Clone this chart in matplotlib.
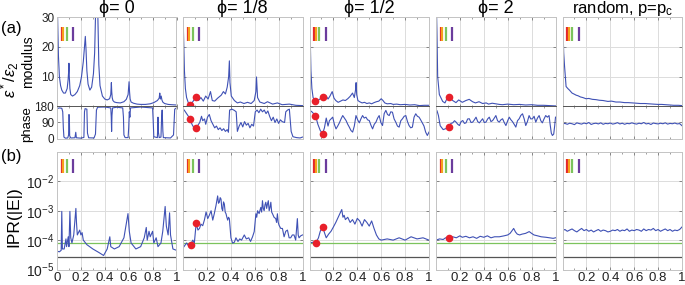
import numpy as np
import matplotlib.pyplot as plt
from matplotlib.ticker import MultipleLocator, LogLocator, NullFormatter

plt.rcParams['font.family'] = ['Liberation Sans', 'DejaVu Sans']
plt.rcParams['mathtext.fontset'] = 'custom'
plt.rcParams['mathtext.rm'] = 'Liberation Sans'
plt.rcParams['mathtext.it'] = 'Liberation Sans:italic'

titles = ['ϕ= 0', 'ϕ= 1/8', 'ϕ= 1/2', 'ϕ= 2', r'random, p=p$_\mathregular{c}$']

# modulus |eps*/eps2| : (x, value)
mod_0 = [(0, 40), (0.005, 30), (0.012, 17), (0.02, 10), (0.03, 7), (0.04, 5.5), (0.055, 4.5), (0.07, 4.5),
         (0.085, 6), (0.093, 9), (0.098, 12), (0.1, 14.5), (0.103, 10), (0.108, 6), (0.115, 4), (0.13, 3.5),
         (0.15, 4), (0.17, 5), (0.19, 7), (0.205, 10), (0.22, 15), (0.23, 20), (0.237, 23.5), (0.243, 19),
         (0.25, 12), (0.26, 7.5), (0.275, 5.5), (0.29, 6.5), (0.305, 11), (0.315, 18), (0.322, 30), (0.328, 40),
         (0.335, 40), (0.342, 30), (0.35, 14), (0.36, 7), (0.38, 3.5), (0.4, 2.5), (0.42, 2.2), (0.44, 2.6),
         (0.45, 4), (0.455, 8), (0.458, 5), (0.462, 3), (0.468, 2), (0.48, 1.5), (0.5, 1.3), (0.53, 1.2),
         (0.56, 1.6), (0.58, 2.4), (0.595, 4), (0.603, 8.3), (0.607, 5), (0.612, 2.5), (0.62, 1.5), (0.64, 1.1),
         (0.67, 0.8), (0.7, 0.7), (0.74, 0.7), (0.78, 0.9), (0.81, 1.3), (0.84, 2), (0.855, 2.8), (0.86, 4.5),
         (0.865, 2.5), (0.872, 3.5), (0.878, 2.2), (0.885, 1.5), (0.9, 1.0), (0.93, 0.7), (0.96, 0.6), (1.0, 0.5)]
mod_18 = [(0.0, 40), (0.004, 25), (0.012, 12), (0.02, 6), (0.03, 3), (0.045, 1.2), (0.06, 0.4), (0.08, 1.5),
          (0.11, 3.2), (0.13, 2), (0.15, 3), (0.17, 1.8), (0.19, 3.5), (0.21, 2.5), (0.23, 5), (0.245, 2),
          (0.265, 1.8), (0.29, 2.8), (0.32, 3.8), (0.338, 5), (0.355, 4.2), (0.37, 6.5), (0.382, 10), (0.388, 15.3),
          (0.393, 8), (0.404, 3.5), (0.43, 2), (0.455, 1.2), (0.48, 1.5), (0.51, 1.0), (0.54, 1.4), (0.57, 1.0),
          (0.596, 2.0), (0.61, 5), (0.615, 9.9), (0.624, 3), (0.643, 1.5), (0.68, 1.0), (0.707, 1.6), (0.75, 0.8),
          (0.79, 1.2), (0.83, 0.6), (0.89, 0.8), (0.944, 0.4), (1.0, 0.3)]
mod_12 = [(0.0, 40), (0.005, 25), (0.012, 12), (0.02, 6), (0.03, 3), (0.05, 1.7), (0.07, 2.0), (0.09, 2.6),
          (0.11, 3.2), (0.125, 2.2), (0.14, 3.5), (0.155, 2.5), (0.17, 3.4), (0.19, 5.0), (0.205, 2.8), (0.22, 2.0),
          (0.24, 1.4), (0.26, 1.8), (0.28, 2.2), (0.3, 2.0), (0.32, 2.6), (0.34, 3.4), (0.36, 4.5), (0.375, 3.0),
          (0.385, 5.5), (0.39, 8.0), (0.395, 4.0), (0.405, 2.0), (0.42, 1.6), (0.44, 1.2), (0.46, 1.4), (0.48, 1.0),
          (0.5, 1.2), (0.52, 0.9), (0.54, 1.3), (0.56, 1.6), (0.58, 1.8), (0.6, 2.6), (0.615, 2.0), (0.63, 1.2),
          (0.65, 0.9), (0.68, 1.0), (0.7, 0.7), (0.73, 0.8), (0.76, 0.6), (0.8, 0.7), (0.84, 0.5), (0.88, 0.6),
          (0.92, 0.3), (0.96, 0.4), (1.0, 0.4)]
mod_2 = [(0.0, 40), (0.008, 25), (0.014, 10), (0.028, 4), (0.056, 1.7), (0.075, 1.2), (0.09, 2.5), (0.11, 3.2),
         (0.14, 2.0), (0.167, 1.3), (0.19, 2.2), (0.22, 1.4), (0.25, 2.0), (0.278, 2.4), (0.306, 1.6), (0.33, 1.2),
         (0.36, 1.6), (0.39, 1.0), (0.42, 1.2), (0.44, 0.8), (0.47, 1.1), (0.5, 0.9), (0.53, 0.7), (0.556, 0.6),
         (0.6, 0.8), (0.65, 0.6), (0.7, 0.7), (0.75, 0.5), (0.8, 0.6), (0.85, 0.4), (0.9, 0.4), (0.95, 0.3), (1.0, 0.2)]
mod_rand = [(0.0, 40), (0.005, 25), (0.01, 18), (0.017, 13.6), (0.03, 6.7), (0.045, 6.0), (0.058, 5.5), (0.08, 4.5),
            (0.1, 4.1), (0.114, 3.8), (0.13, 3.6), (0.15, 3.2), (0.17, 3.0), (0.197, 2.6), (0.22, 2.7), (0.25, 2.4),
            (0.28, 2.3), (0.308, 2.1), (0.34, 2.0), (0.38, 1.7), (0.41, 1.8), (0.447, 1.5), (0.48, 1.5), (0.52, 1.3),
            (0.55, 1.3), (0.586, 1.2), (0.62, 1.1), (0.65, 1.0), (0.69, 1.0), (0.725, 0.9), (0.76, 0.8), (0.8, 0.7),
            (0.83, 0.7), (0.864, 0.6), (0.9, 0.5), (0.93, 0.4), (0.97, 0.4), (1.0, 0.3)]

# phase in degrees : (x, value)
ph_0 = [(0, 168), (0.02, 172), (0.04, 170), (0.048, 150), (0.053, 60), (0.058, 8), (0.07, 2), (0.09, 3),
        (0.097, 20), (0.1, 135), (0.103, 130), (0.106, 15), (0.115, 3), (0.15, 4), (0.157, 35), (0.162, 4),
        (0.2, 2), (0.225, 6), (0.23, 150), (0.235, 168), (0.25, 165), (0.255, 30), (0.265, 4), (0.31, 3),
        (0.322, 25), (0.33, 160), (0.34, 176), (0.4, 177), (0.45, 172), (0.454, 120), (0.457, 40), (0.46, 130),
        (0.465, 172), (0.5, 176), (0.55, 172), (0.556, 120), (0.56, 20), (0.57, 5), (0.595, 5), (0.6, 60),
        (0.605, 150), (0.61, 120), (0.615, 172), (0.7, 177), (0.8, 172), (0.805, 100), (0.81, 10), (0.84, 5),
        (0.845, 120), (0.848, 40), (0.855, 5), (0.87, 8), (0.875, 110), (0.88, 160), (0.886, 40), (0.89, 5),
        (0.95, 3), (0.975, 20), (0.985, 165), (1.0, 172)]
ph_18 = [(0.0, 165), (0.01, 160), (0.03, 140), (0.045, 125), (0.06, 111), (0.075, 80), (0.09, 62), (0.11, 58),
         (0.125, 75), (0.14, 90), (0.155, 125), (0.165, 100), (0.18, 110), (0.19, 80), (0.205, 120), (0.22, 135),
         (0.235, 100), (0.25, 80), (0.265, 60), (0.28, 70), (0.295, 50), (0.31, 60), (0.325, 45), (0.34, 55),
         (0.355, 40), (0.37, 50), (0.38, 35), (0.39, 160), (0.41, 165), (0.43, 158), (0.445, 150), (0.455, 40),
         (0.47, 70), (0.485, 90), (0.5, 65), (0.515, 95), (0.53, 75), (0.545, 85), (0.56, 60), (0.575, 80),
         (0.59, 70), (0.605, 150), (0.62, 160), (0.635, 145), (0.65, 165), (0.665, 150), (0.68, 160), (0.695, 140),
         (0.71, 155), (0.725, 125), (0.74, 100), (0.755, 120), (0.77, 90), (0.785, 110), (0.8, 85), (0.815, 105),
         (0.83, 95), (0.85, 90), (0.86, 150), (0.875, 160), (0.89, 165), (0.905, 40), (0.92, 10), (0.95, 5),
         (0.98, 3), (1.0, 8)]
ph_12 = [(0.0, 160), (0.02, 150), (0.05, 129), (0.07, 80), (0.09, 45), (0.11, 28), (0.125, 60), (0.14, 115),
         (0.155, 70), (0.167, 101), (0.18, 110), (0.194, 120), (0.208, 80), (0.222, 54), (0.236, 70), (0.25, 88),
         (0.264, 110), (0.278, 129), (0.292, 115), (0.306, 101), (0.32, 80), (0.333, 64), (0.347, 45), (0.361, 36),
         (0.375, 70), (0.389, 129), (0.403, 105), (0.417, 88), (0.43, 110), (0.444, 129), (0.458, 115), (0.472, 120),
         (0.486, 105), (0.5, 101), (0.514, 75), (0.528, 54), (0.542, 80), (0.556, 92), (0.57, 115), (0.583, 129),
         (0.597, 90), (0.611, 73), (0.625, 140), (0.639, 158), (0.653, 135), (0.667, 129), (0.68, 150), (0.694, 148),
         (0.708, 110), (0.722, 92), (0.736, 70), (0.75, 64), (0.764, 100), (0.778, 111), (0.792, 125), (0.806, 129),
         (0.82, 95), (0.833, 73), (0.847, 60), (0.861, 64), (0.875, 120), (0.889, 139), (0.903, 125), (0.917, 120),
         (0.93, 105), (0.944, 88), (0.958, 70), (0.972, 36), (0.986, 17), (1.0, 36)]
ph_2 = [(0.0, 143), (0.008, 157), (0.02, 130), (0.035, 72), (0.06, 50), (0.08, 55), (0.11, 64), (0.125, 85),
        (0.14, 88), (0.155, 100), (0.168, 92), (0.182, 80), (0.196, 73), (0.21, 95), (0.224, 101), (0.238, 85),
        (0.251, 88), (0.265, 110), (0.279, 111), (0.293, 90), (0.307, 92), (0.321, 105), (0.335, 120), (0.349, 95),
        (0.363, 88), (0.377, 100), (0.39, 111), (0.404, 90), (0.418, 92), (0.432, 110), (0.446, 120), (0.46, 95),
        (0.474, 101), (0.488, 115), (0.501, 129), (0.515, 100), (0.529, 92), (0.543, 105), (0.557, 111), (0.571, 90),
        (0.585, 73), (0.6, 100), (0.613, 120), (0.627, 105), (0.64, 95), (0.654, 80), (0.668, 64), (0.682, 100),
        (0.696, 111), (0.71, 130), (0.724, 139), (0.738, 110), (0.751, 73), (0.765, 95), (0.779, 129), (0.793, 110),
        (0.807, 111), (0.821, 125), (0.835, 92), (0.849, 115), (0.863, 129), (0.877, 100), (0.89, 88), (0.904, 110),
        (0.918, 129), (0.932, 120), (0.946, 129), (0.955, 80), (0.965, 30), (0.974, 17), (0.985, 25), (0.993, 70),
        (1.0, 120)]
ph_rand = [82, 85, 80, 86, 83, 78, 88, 84, 81, 87, 83, 90, 79, 84, 86, 82, 88, 80, 85, 83, 87, 81, 84, 89, 82,
           86, 80, 85, 83, 88, 84, 81, 86, 83, 90, 82, 85, 79, 87, 84, 82, 86, 83, 88, 81, 85, 83, 87, 82, 84, 72]

# IPR(|E|) : (x, value)
ipr_0 = [(0, 4.2e-5), (0.02, 4.0e-5), (0.035, 4.5e-5), (0.04, 9.5e-4), (0.045, 5e-5), (0.06, 5e-5),
         (0.075, 1.1e-4), (0.08, 6e-5), (0.094, 1.3e-4), (0.1, 6e-5), (0.108, 9.5e-4), (0.115, 1.2e-4),
         (0.125, 8e-5), (0.14, 1.5e-4), (0.158, 1.2e-3), (0.163, 4e-4), (0.17, 1.5e-4), (0.19, 2.2e-4),
         (0.2, 1.5e-4), (0.21, 1.8e-4), (0.22, 1e-4), (0.25, 7e-5), (0.3, 5e-5), (0.35, 3.8e-5), (0.39, 3.0e-5),
         (0.42, 5e-5), (0.442, 1.3e-4), (0.45, 6e-5), (0.48, 5e-5), (0.52, 6e-5), (0.56, 1.2e-4), (0.594, 8e-4),
         (0.605, 2e-4), (0.62, 8e-5), (0.66, 5e-5), (0.7, 6e-5), (0.73, 1.2e-4), (0.747, 2.7e-4), (0.755, 1e-4),
         (0.77, 2e-4), (0.78, 1.3e-4), (0.8, 2e-4), (0.81, 8e-5), (0.83, 1.2e-4), (0.845, 6e-5), (0.87, 8e-5),
         (0.885, 2e-4), (0.905, 1.4e-3), (0.915, 3e-4), (0.93, 1.5e-4), (0.942, 8.5e-4), (0.95, 1.5e-4),
         (0.97, 5e-5), (1.0, 4.5e-5)]
ipr_18 = [(0.0, 5.4e-5), (0.03, 8e-5), (0.045, 6.5e-5), (0.063, 6.9e-5), (0.082, 1.0e-4), (0.095, 8e-5),
          (0.11, 3.7e-4), (0.125, 2.2e-4), (0.138, 2.5e-4), (0.15, 3.5e-4), (0.165, 3.1e-4), (0.18, 5e-4),
          (0.193, 9.1e-4), (0.207, 5.4e-4), (0.22, 7e-4), (0.235, 1.0e-3), (0.249, 4.8e-4), (0.262, 8e-4),
          (0.276, 1.5e-3), (0.29, 3.2e-3), (0.297, 1.8e-3), (0.304, 1.95e-3), (0.311, 2.8e-3), (0.318, 2.5e-3),
          (0.325, 1.2e-3), (0.332, 1.0e-3), (0.339, 2.0e-3), (0.346, 1.7e-3), (0.353, 9e-4), (0.36, 7.9e-4),
          (0.367, 6e-4), (0.374, 4.8e-4), (0.381, 6e-4), (0.388, 5.4e-4), (0.401, 1.2e-4), (0.415, 7.9e-5),
          (0.43, 8.5e-5), (0.443, 1.2e-4), (0.46, 9e-5), (0.475, 1.1e-4), (0.49, 1.0e-4), (0.513, 1.5e-4),
          (0.53, 1.1e-4), (0.55, 1.2e-4), (0.565, 9e-5), (0.582, 1.3e-4), (0.596, 1.95e-4), (0.61, 7.9e-4),
          (0.617, 6e-4), (0.624, 1.0e-3), (0.637, 8e-4), (0.651, 1.3e-3), (0.658, 9e-4), (0.665, 2.2e-3),
          (0.672, 1.2e-3), (0.679, 1.0e-3), (0.686, 1.6e-3), (0.693, 1.95e-3), (0.7, 1.2e-3), (0.707, 1.7e-3),
          (0.714, 2.2e-3), (0.721, 1.0e-3), (0.728, 1.3e-3), (0.735, 1.95e-3), (0.742, 9e-4), (0.749, 7.9e-4),
          (0.762, 6e-4), (0.776, 5.4e-4), (0.783, 4e-4), (0.79, 7.9e-4), (0.797, 4e-4), (0.804, 3.2e-4),
          (0.818, 2.5e-4), (0.832, 2.5e-4), (0.846, 1.3e-4), (0.86, 2e-4), (0.874, 2.2e-4), (0.888, 1.2e-4),
          (0.901, 1.2e-4), (0.915, 1.5e-4), (0.929, 1.5e-4), (0.943, 1.0e-4), (0.957, 5.4e-4), (0.964, 1.5e-4),
          (0.971, 1.2e-4), (0.985, 1.4e-4), (1.0, 1.5e-4)]
ipr_12 = [(0.0, 8e-5), (0.03, 8.5e-5), (0.055, 8.3e-5), (0.075, 1.2e-4), (0.09, 2e-4), (0.11, 2.9e-4),
          (0.125, 1.8e-4), (0.14, 1.2e-4), (0.16, 1.6e-4), (0.18, 2e-4), (0.2, 2.8e-4), (0.22, 4e-4), (0.24, 6e-4),
          (0.26, 9e-4), (0.27, 1.1e-3), (0.28, 6e-4), (0.29, 7e-4), (0.3, 5e-4), (0.32, 6e-4), (0.34, 4e-4),
          (0.36, 5e-4), (0.38, 3.5e-4), (0.4, 5.5e-4), (0.42, 4.5e-4), (0.44, 3e-4), (0.46, 5e-4), (0.48, 4e-4),
          (0.5, 3e-4), (0.52, 4.5e-4), (0.54, 2.5e-4), (0.56, 1.5e-4), (0.58, 1.1e-4), (0.6, 1.0e-4),
          (0.65, 1.1e-4), (0.7, 1.0e-4), (0.75, 1.2e-4), (0.8, 1.0e-4), (0.85, 1.3e-4), (0.9, 1.1e-4),
          (0.95, 1.2e-4), (1.0, 1.0e-4)]
ipr_2 = [(0.0, 1.0e-4), (0.03, 1.1e-4), (0.06, 1.05e-4), (0.08, 1.2e-4), (0.11, 1.17e-4), (0.14, 1.3e-4),
         (0.17, 1.2e-4), (0.2, 1.4e-4), (0.22, 1.25e-4), (0.25, 1.35e-4), (0.28, 1.2e-4), (0.31, 1.3e-4),
         (0.34, 1.15e-4), (0.37, 1.35e-4), (0.4, 1.25e-4), (0.43, 1.4e-4), (0.46, 1.2e-4), (0.49, 1.3e-4),
         (0.53, 1.3e-4), (0.57, 1.4e-4), (0.6, 1.5e-4), (0.62, 1.7e-4), (0.65, 2.5e-4), (0.665, 1.9e-4),
         (0.68, 1.6e-4), (0.7, 1.5e-4), (0.72, 1.6e-4), (0.75, 1.7e-4), (0.78, 1.95e-4), (0.8, 1.7e-4),
         (0.82, 1.5e-4), (0.85, 1.4e-4), (0.88, 1.3e-4), (0.92, 1.25e-4), (0.95, 1.2e-4), (0.98, 1.15e-4),
         (1.0, 1.2e-4)]
ipr_rand = [2.1e-4, 2.3e-4, 2.0e-4, 2.2e-4, 2.4e-4, 2.1e-4, 1.9e-4, 2.2e-4, 2.5e-4, 2.1e-4, 2.3e-4, 2.0e-4,
            2.2e-4, 1.9e-4, 2.1e-4, 2.3e-4, 2.0e-4, 2.2e-4, 2.1e-4, 1.9e-4, 2.0e-4, 2.2e-4, 2.1e-4, 2.3e-4,
            2.0e-4, 2.2e-4, 2.1e-4, 2.4e-4, 2.0e-4, 2.2e-4, 2.1e-4, 2.3e-4, 2.2e-4, 2.0e-4, 2.4e-4, 2.1e-4,
            2.3e-4, 2.2e-4, 2.5e-4, 2.1e-4, 2.3e-4, 2.0e-4, 2.2e-4, 2.4e-4, 2.1e-4, 2.3e-4, 2.0e-4, 2.2e-4,
            2.1e-4, 2.3e-4, 2.8e-4]

# red markers : (x, modulus), (x, phase), (x, ipr)
dots_mod = [[], [(0.06, 0.4), (0.11, 3.2)], [(0.05, 1.7), (0.11, 3.2)], [(0.11, 3.2)], []]
dots_ph = [[], [(0.06, 111), (0.11, 58)], [(0.05, 129), (0.11, 28)], [(0.11, 64)], []]
dots_ipr = [[], [(0.063, 6.9e-5), (0.11, 3.7e-4)], [(0.055, 8.3e-5), (0.11, 2.9e-4)], [(0.11, 1.17e-4)], []]

ipr_green = 7.9e-5
ipr_black = 2.7e-5
bar_x = [0.04, 0.053, 0.08, 0.135]
bar_colors = ['#e5262b', '#f5a11c', '#7cc35c', '#6b3c9c']

mods = [mod_0, mod_18, mod_12, mod_2, mod_rand]
phs = [ph_0, ph_18, ph_12, ph_2, ph_rand]
iprs = [ipr_0, ipr_18, ipr_12, ipr_2, ipr_rand]

W, H = 685, 285
fig = plt.figure(figsize=(W / 100, H / 100), dpi=100)
lefts = [57, 183, 309.5, 436, 562.5]
pw = 119.5
blue = '#3f51b5'
grid_c = '#dcdcdc'
frame_c = '#c4c4c4'


def rect(l, top, bot):
    return [l / W, 1 - bot / H, pw / W, (bot - top) / H]


def unzip(series):
    if isinstance(series[0], tuple):
        xs, ys = zip(*series)
        return list(xs), list(ys)
    return list(np.linspace(0, 1, len(series))), series


def style(ax):
    ax.set_xlim(0, 1)
    ax.xaxis.set_major_locator(MultipleLocator(0.2))
    ax.xaxis.set_minor_locator(MultipleLocator(0.1))
    ax.tick_params(which='both', direction='in', top=True, right=True, colors='#777777',
                   labelcolor='#222222', pad=2)
    ax.tick_params(axis='x', labelsize=9.5)
    ax.tick_params(axis='y', labelsize=8.5)
    ax.tick_params(which='major', length=2.5, width=0.6)
    ax.tick_params(which='minor', length=1.5, width=0.5)
    ax.grid(True, which='major', color=grid_c, lw=0.7)
    ax.set_axisbelow(True)
    for s in ax.spines.values():
        s.set_color(frame_c)
        s.set_linewidth(0.7)


def bars(ax, y0, y1):
    ax.vlines(bar_x, y0, y1, colors=bar_colors, lw=1.6, transform=ax.get_xaxis_transform())


for i in range(5):
    l = lefts[i]
    am = fig.add_axes(rect(l, 17, 106.5))
    ap = fig.add_axes(rect(l, 106.5, 138.5))
    ai = fig.add_axes(rect(l, 152, 269.5))

    x, y = unzip(mods[i])
    am.plot(x, y, color=blue, lw=0.8)
    am.set_ylim(0, 30)
    am.set_yticks([10, 20, 30])
    style(am)
    am.tick_params(labelbottom=False)
    am.spines['bottom'].set_color('#555555')
    bars(am, 0.73, 0.89)

    x, y = unzip(phs[i])
    ap.plot(x, y, color=blue, lw=0.8)
    ap.set_ylim(0, 180)
    ap.set_yticks([0, 90, 180])
    style(ap)
    ap.tick_params(labelbottom=False)
    ap.spines['top'].set_color('#555555')

    x, y = unzip(iprs[i])
    ai.axhline(ipr_black, color='#555555', lw=0.9)
    ai.axhline(ipr_green, color='#7cc35c', lw=0.9)
    ai.plot(x, y, color=blue, lw=0.8)
    ai.set_yscale('log')
    ai.set_ylim(1e-5, 1e-1)
    ai.set_yticks([1e-5, 1e-4, 1e-3, 1e-2])
    ai.set_yticklabels(['$10^{-5}$', '$10^{-4}$', '$10^{-3}$', '$10^{-2}$'])
    ai.yaxis.set_minor_locator(LogLocator(base=10, subs=np.arange(2, 10)))
    ai.yaxis.set_minor_formatter(NullFormatter())
    style(ai)
    ai.tick_params(axis='y', labelsize=10)
    ai.set_xticks([0, 0.2, 0.4, 0.6, 0.8, 1.0])
    ai.set_xticklabels(['0' if i == 0 else '', '0.2', '0.4', '0.6', '0.8', '1'])
    bars(ai, 0.82, 0.94)

    for ax, pts in ((am, dots_mod[i]), (ap, dots_ph[i]), (ai, dots_ipr[i])):
        if pts:
            dx, dy = zip(*pts)
            ax.plot(dx, dy, 'o', color='#e8202a', ms=5.5, mec='none', zorder=5)

    if i > 0:
        for ax in (am, ap, ai):
            ax.tick_params(labelleft=False)

    fig.text((l + pw / 2) / W, 1 - 8.5 / H, titles[i], ha='center', va='center',
             fontsize=13 if i < 4 else 12)

fig.text(11 / W, 1 - 28 / H, '(a)', ha='center', va='center', fontsize=12)
fig.text(11 / W, 1 - 157 / H, '(b)', ha='center', va='center', fontsize=12)
fig.text(10 / W, 1 - 80 / H, r'$\epsilon^*/\epsilon_2$', ha='center', va='center', rotation=90, fontsize=12)
fig.text(28.5 / W, 1 - 62 / H, 'modulus', ha='center', va='center', rotation=90, fontsize=10)
fig.text(27 / W, 1 - 124 / H, 'phase', ha='center', va='center', rotation=90, fontsize=9.5)
fig.text(14 / W, 1 - 217 / H, 'IPR(|E|)', ha='center', va='center', rotation=90, fontsize=12.5)

fig.savefig('out.png', dpi=100)
